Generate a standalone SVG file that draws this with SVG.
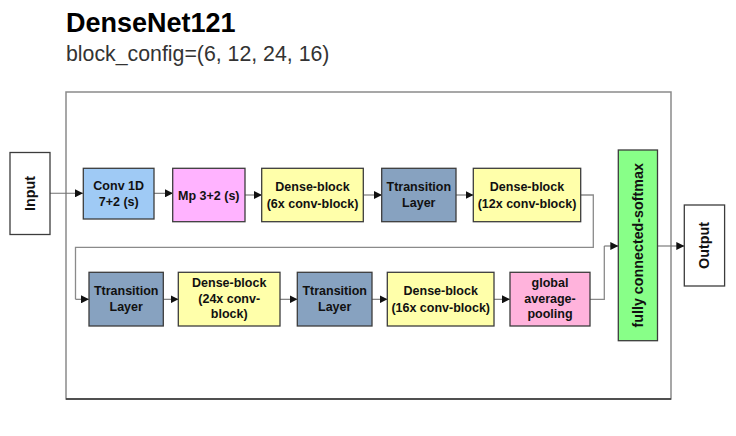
<svg xmlns="http://www.w3.org/2000/svg" width="736" height="436" viewBox="0 0 736 436">
<defs>
<marker id="ah" viewBox="0 0 10 10" refX="10" refY="5" markerWidth="8" markerHeight="8" markerUnits="userSpaceOnUse" orient="auto">
<path d="M0,0 L10,5 L0,10 z" fill="#111"/>
</marker>
<style>
.t{font-family:"Liberation Sans",Arial,sans-serif;font-weight:bold;font-size:12.5px;fill:#111;text-anchor:middle}
.r{font-size:14.3px}
.n{stroke:#3c3c3c;stroke-width:1.3}
.c{fill:none;stroke:#707070;stroke-width:1.1;marker-end:url(#ah)}
.cl{fill:none;stroke:#8a8a8a;stroke-width:1.3}
</style>
</defs>
<rect width="736" height="436" fill="#fff"/>
<text x="66" y="32" font-family="'Liberation Sans',Arial,sans-serif" font-weight="bold" font-size="27" fill="#000">DenseNet121</text>
<text x="66" y="61" font-family="'Liberation Sans',Arial,sans-serif" font-size="21.3" fill="#333">block_config=(6, 12, 24, 16)</text>
<g id="frame">
<rect x="66" y="92" width="605" height="307" fill="none" stroke="#8a8a8a" stroke-width="1.5"/>
<line x1="66" y1="399" x2="671" y2="399" stroke="#333" stroke-width="1.5"/>
</g>
<g id="connectors">
<path class="c" d="M50,193.3 H83"/>
<path class="c" d="M154,193.3 H173"/>
<path class="c" d="M245,195 H262"/>
<path class="c" d="M363.5,195 H382"/>
<path class="c" d="M456,195 H473.5"/>
<path class="cl" d="M581,195 H593.3 V247.3 H75.5 V299.3"/>
<path class="c" d="M75.5,299.3 H89"/>
<path class="c" d="M163.5,299.3 H178.5"/>
<path class="c" d="M280,299.3 H297.5"/>
<path class="c" d="M372,299.3 H387.5"/>
<path class="c" d="M494,299.3 H510"/>
<path class="cl" d="M590,299.3 H604.3 V246"/>
<path class="c" d="M604.3,246 H618.3"/>
<path class="c" d="M657.5,246 H684.3"/>
</g>
<g id="input">
<rect class="n" x="10" y="152.5" width="40" height="82" fill="#fff"/>
<text class="t r" transform="translate(35,193.5) rotate(-90)">Input</text>
</g>
<g id="conv1d">
<rect class="n" x="83.3" y="168.3" width="70.7" height="50.7" fill="#9fcaf5"/>
<text class="t" x="118.7" y="189.5">Conv 1D</text>
<text class="t" x="118.7" y="206.3">7+2 (s)</text>
</g>
<g id="maxpool">
<rect class="n" x="172.7" y="168.3" width="72.3" height="53.4" fill="#ffb3ff"/>
<text class="t" x="208.8" y="199.5">Mp 3+2 (s)</text>
</g>
<g id="dense6">
<rect class="n" x="261.7" y="168.3" width="101.6" height="53.4" fill="#ffffaa"/>
<text class="t" x="312.5" y="190.5">Dense-block</text>
<text class="t" x="312.5" y="207.7">(6x conv-block)</text>
</g>
<g id="trans1">
<rect class="n" x="381.7" y="168.3" width="74.3" height="53.4" fill="#87a2c0"/>
<text class="t" x="418.8" y="190.5">Ttransition</text>
<text class="t" x="418.8" y="207.3">Layer</text>
</g>
<g id="dense12">
<rect class="n" x="473.3" y="168.3" width="107.4" height="53.4" fill="#ffffaa"/>
<text class="t" x="527" y="190.5">Dense-block</text>
<text class="t" x="527" y="207.7">(12x conv-block)</text>
</g>
<g id="trans2">
<rect class="n" x="89" y="272.3" width="74.3" height="53.7" fill="#87a2c0"/>
<text class="t" x="126.2" y="294.5">Ttransition</text>
<text class="t" x="126.2" y="311.3">Layer</text>
</g>
<g id="dense24">
<rect class="n" x="178.3" y="272.3" width="101.7" height="53.7" fill="#ffffaa"/>
<text class="t" x="229.2" y="287">Dense-block</text>
<text class="t" x="229.2" y="302.7">(24x conv-</text>
<text class="t" x="229.2" y="318.4">block)</text>
</g>
<g id="trans3">
<rect class="n" x="297.3" y="272.3" width="74.7" height="53.7" fill="#87a2c0"/>
<text class="t" x="334.7" y="294.5">Ttransition</text>
<text class="t" x="334.7" y="311.3">Layer</text>
</g>
<g id="dense16">
<rect class="n" x="387.3" y="272.3" width="106.7" height="53.7" fill="#ffffaa"/>
<text class="t" x="440.7" y="294.5">Dense-block</text>
<text class="t" x="440.7" y="311.5">(16x conv-block)</text>
</g>
<g id="gap">
<rect class="n" x="510" y="272.3" width="80" height="53.7" fill="#ffb3dc"/>
<text class="t" x="550" y="286.7">global</text>
<text class="t" x="550" y="302.6">average-</text>
<text class="t" x="550" y="317.8">pooling</text>
</g>
<g id="fc">
<rect class="n" x="618.3" y="150" width="39.2" height="190.7" fill="#88ff88"/>
<text class="t r" transform="translate(643,245.3) rotate(-90)">fully connected-softmax</text>
</g>
<g id="output">
<rect class="n" x="684.3" y="205" width="40.3" height="81" fill="#fff"/>
<text class="t r" transform="translate(709.3,245.5) rotate(-90)">Output</text>
</g>
</svg>
